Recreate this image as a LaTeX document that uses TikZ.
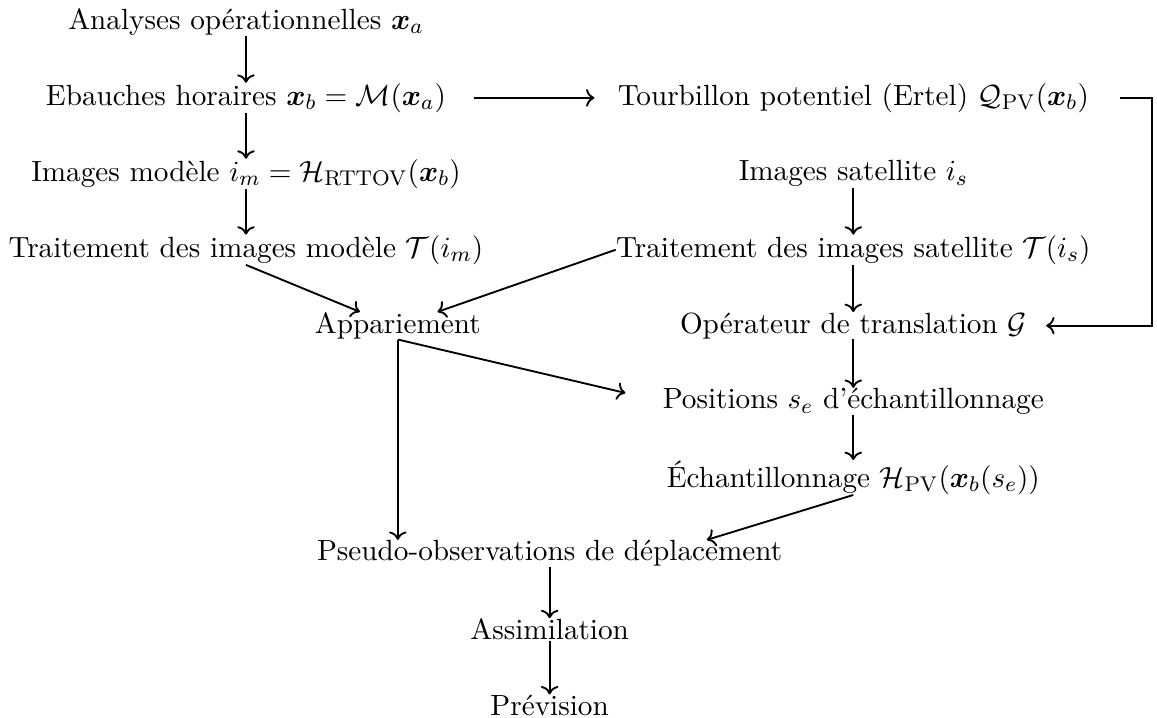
\documentclass[tikz,border=0pt,11pt]{standalone}
\usepackage{amsmath,amssymb,bm}
\usepackage{tikz}
\usetikzlibrary{positioning, arrows.meta}

\begin{document}
\begin{tikzpicture}[
    etape/.style={
        inner sep=0pt,
        align=center
    },
    fleche/.style={
        ->,
        line width=0.7pt
    }
]
\useasboundingbox (-3.24,0.29) rectangle (12.0,-9.16);

% Colonne de gauche (modele)
\node (ana) at (0,0)  [etape] {Analyses opérationnelles $\bm{x}_a$};
\node (eba) at (0,-1) [etape] {Ebauches horaires $\bm{x}_b = \mathcal{M}(\bm{x}_a)$};
\node (imm) at (0,-2) [etape] {Images modèle $i_m = \mathcal{H}_{\mathrm{RTTOV}}(\bm{x}_b)$};
\node (trm) at (0,-3) [etape] {Traitement des images modèle $\mathcal{T}(i_m)$};

% Colonne de droite (satellite, PV)
\node (tour) at (8,-1) [etape] {Tourbillon potentiel (Ertel) $\mathcal{Q}_{\mathrm{PV}}(\bm{x}_b)$};
\node (isat) at (8,-2) [etape] {Images satellite $i_s$};
\node (tsat) at (8,-3) [etape] {Traitement des images satellite $\mathcal{T}(i_s)$};
\node (op)   at (8,-4) [etape] {Opérateur de translation $\mathcal{G}$};
\node (pos)  at (8,-5) [etape] {Positions $s_e$ d'échantillonnage};
\node (ech)  at (8,-6) [etape] {Échantillonnage $\mathcal{H}_{\mathrm{PV}}(\bm{x}_b(s_e))$};

% Milieu
\node (app)    at (2,-4) [etape] {Appariement};
\node (pseudo) at (4,-7) [etape] {Pseudo-observations de déplacement};
\node (assim)  at (4,-8) [etape] {Assimilation};
\node (prev)   at (4,-9) [etape] {Prévision};

\coordinate (coin) at (11.93,-1);

% Fleches verticales
\draw [fleche] (ana) -- (eba);
\draw [fleche] (eba) -- (imm);
\draw [fleche] (imm) -- (trm);
\draw [fleche] (isat) -- (tsat);
\draw [fleche] (tsat) -- (op);
\draw [fleche] (op) -- (pos);
\draw [fleche] (pos) -- (ech);
\draw [fleche] (pseudo) -- (assim);
\draw [fleche] (assim) -- (prev);

% Fleches obliques et coudees
\draw [fleche, shorten <=0.36cm, shorten >=0.3cm] (eba) -- (tour);
\draw [fleche, shorten <=0.4cm, shorten >=0.25cm] (tour) -- (coin) |- (op);
\draw [fleche] (trm.south) -- ([xshift=-0.5cm]app.north);
\draw [fleche] (tsat.west) -- (app);
\draw [fleche, shorten >=0.5cm] (app.south) -- (pos.west);
\draw [fleche] (app.south) -- (app.south |- pseudo.north);
\draw [fleche] (ech.south) -- ([xshift=-1cm]pseudo.north east);

\end{tikzpicture}
\end{document}
